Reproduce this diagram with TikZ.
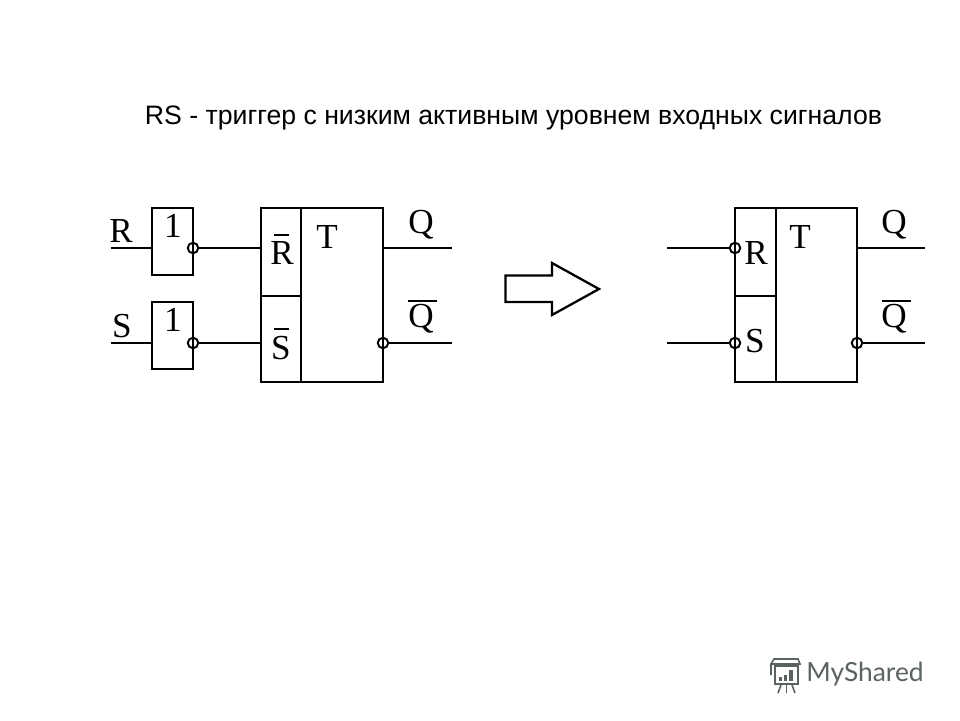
\documentclass[tikz,border=0pt]{standalone}
\usepackage{fontspec}
\setmainfont{Liberation Serif}
\newfontfamily\titlefont{Liberation Sans}
\newfontfamily\logofont{Lato}
\definecolor{logogrey}{HTML}{5A6361}

\begin{document}
\begin{tikzpicture}[x=0.02cm,y=-0.02cm]
\useasboundingbox (0,0) rectangle (960,720);
\tikzstyle{every node}=[inner sep=0pt];
\tikzstyle{wire}=[line width=1.3pt];
\tikzstyle{lbl}=[font=\fontsize{20}{20}\selectfont];
\tikzstyle{bub}=[draw,shape=circle,line width=1.1pt,minimum size=0.21cm,fill=none];
\tikzstyle{gatebox}=[draw,shape=rectangle,line width=1.3pt,minimum width=0.82cm,minimum height=1.34cm];

\node[font=\titlefont\fontsize{15.17}{17}\selectfont] (title) at (513.5,118) {RS - триггер с низким активным уровнем входных сигналов};

% left: gates and block
\node[gatebox] (g1) at (172.5,241.5) {};
\node[gatebox] (g2) at (172.5,335.5) {};
\node[draw,line width=1.3pt,minimum width=2.44cm,minimum height=3.48cm] (t1) at (322,295) {};
\node[draw,line width=1.3pt,minimum width=0.8cm,minimum height=1.76cm] (r1) at (281,252) {};
\node[draw,line width=1.3pt,minimum width=0.8cm,minimum height=1.72cm] (s1) at (281,339) {};
\node[bub] (b1) at (193,248) {};
\node[bub] (b2) at (193,343) {};
\node[bub] (b3) at (383,343) {};
\coordinate (i1) at (111,248);
\coordinate (i2) at (111,343);
\coordinate (j1) at (152,248);
\coordinate (j2) at (152,343);
\coordinate (k1) at (261,248);
\coordinate (k2) at (261,343);
\coordinate (o1a) at (383,248);
\coordinate (o1) at (452,248);
\coordinate (o2) at (452,343);
\draw[wire] (i1) -- (j1);
\draw[wire] (i2) -- (j2);
\draw[wire] (b1) -- (k1);
\draw[wire] (b2) -- (k2);
\draw[wire] (o1a) -- (o1);
\draw[wire] (b3) -- (o2);
\node[lbl] (lr) at (121,231) {R};
\node[lbl] (ls) at (122,326) {S};
\node[lbl] (n1) at (173,226) {1};
\node[lbl] (n2) at (173,320) {1};
\node[lbl] (lrb) at (282,253) {R};
\node[lbl] (lsb) at (281,348) {S};
\node[lbl] (lt) at (327,237) {T};
\node[lbl] (lq) at (421,225) {Q};
\node[lbl] (lqb) at (421,319) {Q};
\draw[wire] (274,235) -- (289,235);
\draw[wire] (274,329) -- (289,329);
\draw[wire] (408,301) -- (437,301);

% arrow
\draw[wire] (505.5,275.5) -- (552,275.5) -- (552,263) -- (599,289) -- (552,315) -- (552,302) -- (505.5,302) -- cycle;

% right: block only
\node[draw,line width=1.3pt,minimum width=2.44cm,minimum height=3.48cm] (t2) at (796,295) {};
\node[draw,line width=1.3pt,minimum width=0.82cm,minimum height=1.76cm] (r2) at (755.5,252) {};
\node[draw,line width=1.3pt,minimum width=0.82cm,minimum height=1.72cm] (s2) at (755.5,339) {};
\node[bub] (b4) at (735,248) {};
\node[bub] (b5) at (735,343) {};
\node[bub] (b6) at (857,343) {};
\coordinate (i3) at (667,248);
\coordinate (i4) at (667,343);
\coordinate (o3a) at (857,248);
\coordinate (o3) at (925,248);
\coordinate (o4) at (925,343);
\draw[wire] (i3) -- (b4);
\draw[wire] (i4) -- (b5);
\draw[wire] (o3a) -- (o3);
\draw[wire] (b6) -- (o4);
\node[lbl] (rr) at (756,253) {R};
\node[lbl] (rs) at (755,341) {S};
\node[lbl] (rt) at (800,237) {T};
\node[lbl] (rq) at (894,225) {Q};
\node[lbl] (rqb) at (894,319) {Q};
\draw[wire] (882,301) -- (911,301);

% logo
\node[font=\logofont\fontsize{15}{15}\selectfont,text=logogrey] (logo) at (865,674) {MyShared};
\draw[logogrey,line width=0.9pt] (771,664) -- (800,664) -- (798,659) -- (774,659) -- (771,664) -- (771,675);
\draw[logogrey,line width=0.9pt] (775,666) rectangle (798,684);
\draw[logogrey,line width=0.9pt] (781,685) -- (778,693);
\draw[logogrey,line width=0.9pt] (786.5,685) -- (786.5,693);
\draw[logogrey,line width=0.9pt] (792,685) -- (795,693);
\fill[logogrey] (779,677) rectangle (782,681);
\fill[logogrey] (784,675) rectangle (787,681);
\fill[logogrey] (789,670) rectangle (793,681);
\end{tikzpicture}
\end{document}
